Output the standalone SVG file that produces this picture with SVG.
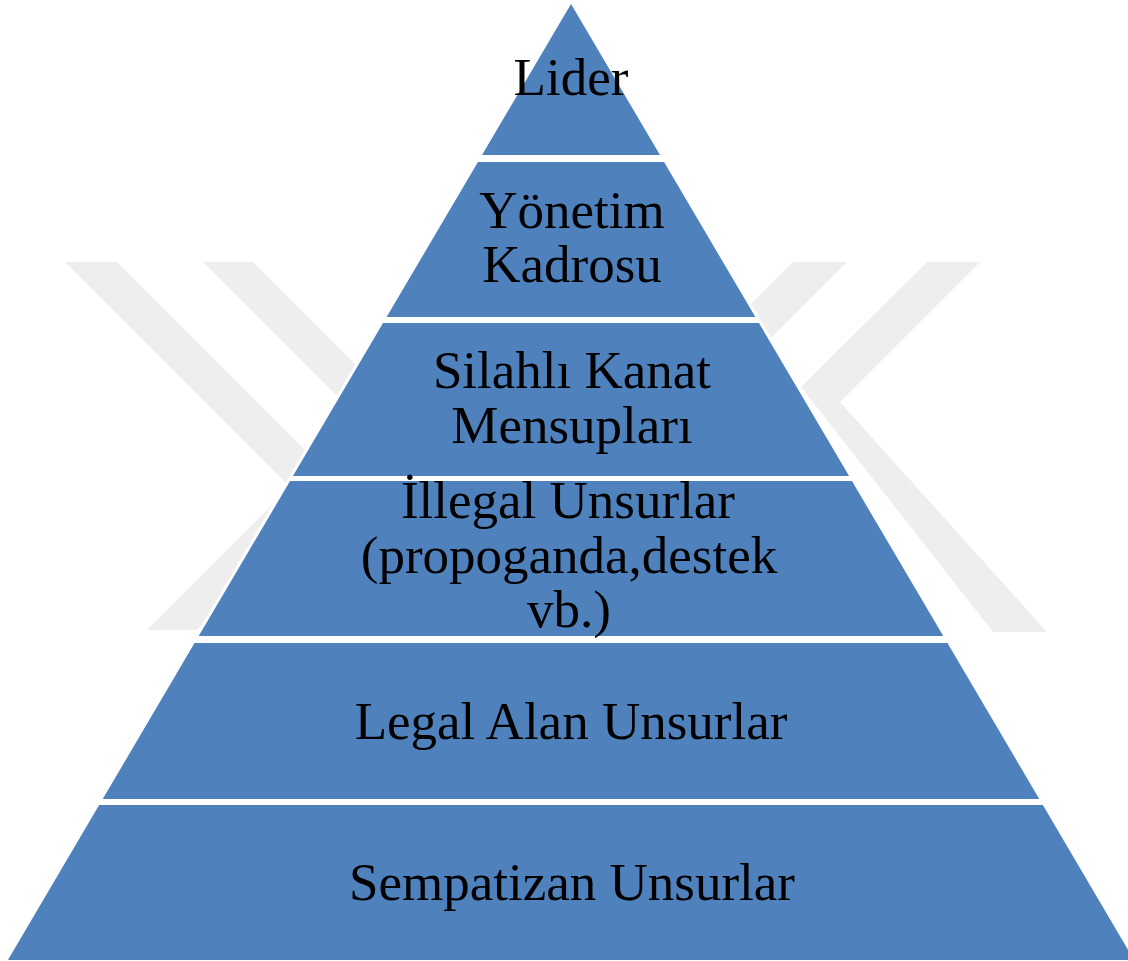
<svg xmlns="http://www.w3.org/2000/svg" width="1128" height="961" viewBox="0 0 1128 961">
  <style>
    .wm { fill: #eeeeee; }
    .tier { fill: #4f81bd; stroke: #ffffff; stroke-width: 3; }
    .lbl { font-family: "Liberation Serif", "Times New Roman", serif; font-size: 53px; fill: #000000; text-anchor: middle; }
  </style>
  <rect x="0" y="0" width="1128" height="961" fill="#ffffff"/>
  <g id="watermark">
    <polygon class="wm" points="65,262 117,262 340,485 288,485"/>
    <polygon class="wm" points="203,262 253,262 420,429 370,429"/>
    <polygon class="wm" points="147,630 197,630 330,497 280,497"/>
    <polygon class="wm" points="793,262 847,262 760,349 706,349"/>
    <polygon class="wm" points="927,262 980,262 840,402 1047,632 993,632 801,387"/>
  </g>
  <g id="connectors"></g>
  <g id="tier-lider">
    <polygon class="tier" points="571,1 662.6,156.5 479.4,156.5"/>
    <text class="lbl" x="571" y="95">Lider</text>
  </g>
  <g id="tier-yonetim">
    <polygon class="tier" points="477.1,160.5 664.9,160.5 758,318.5 384,318.5"/>
    <text class="lbl" x="572" y="228">Yönetim</text>
    <text class="lbl" x="572" y="282">Kadrosu</text>
  </g>
  <g id="tier-silahli">
    <polygon class="tier" points="382.2,321.5 759.8,321.5 851.7,477.5 290.3,477.5"/>
    <text class="lbl" x="572" y="388">Silahlı Kanat</text>
    <text class="lbl" x="572" y="443">Mensupları</text>
  </g>
  <g id="tier-illegal">
    <polygon class="tier" points="289.2,479.5 852.8,479.5 945.9,637.5 196.1,637.5"/>
    <text class="lbl" x="568" y="518">İllegal Unsurlar</text>
    <text class="lbl" x="569" y="573">(propoganda,destek</text>
    <text class="lbl" x="569" y="627">vb.)</text>
  </g>
  <g id="tier-legal">
    <polygon class="tier" points="193.7,641.5 948.3,641.5 1041.9,800.5 100.1,800.5"/>
    <text class="lbl" x="571" y="739">Legal Alan Unsurlar</text>
  </g>
  <g id="tier-sempatizan">
    <polygon class="tier" points="98.3,803.5 1043.7,803.5 1136.7,961.5 5.3,961.5"/>
    <text class="lbl" x="572" y="900">Sempatizan Unsurlar</text>
  </g>
</svg>
